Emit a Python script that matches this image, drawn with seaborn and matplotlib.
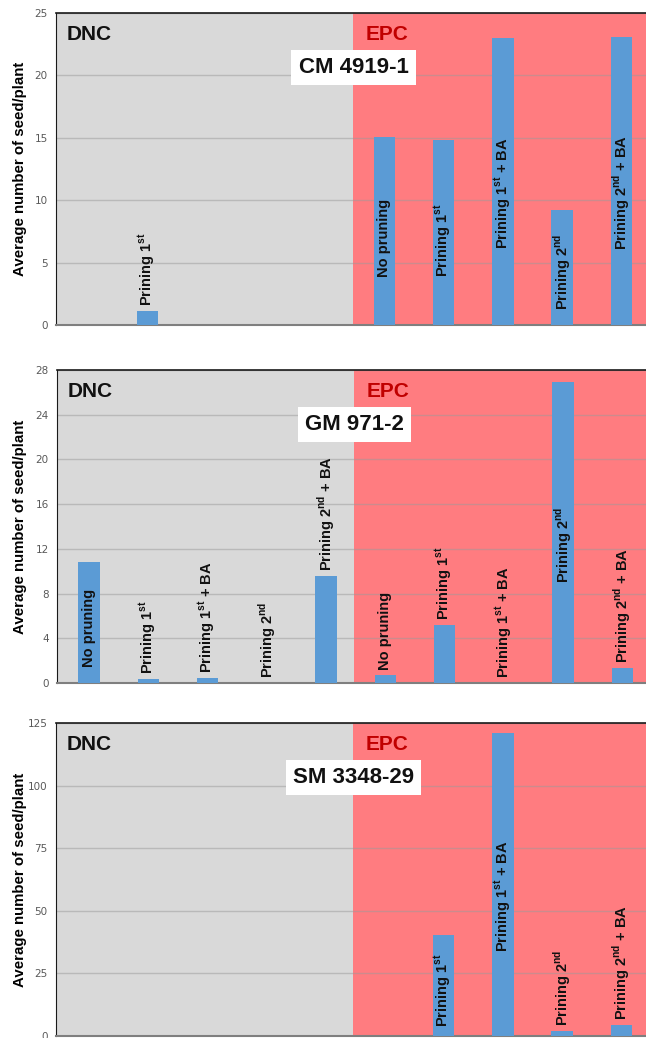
import numpy as np
import pandas as pd
import matplotlib
matplotlib.use("Agg")
import matplotlib.pyplot as plt
import seaborn as sns

nan = np.nan

# treatments, same order in both zones
treatments = [
    r"No pruning",
    r"Prining 1$^{\mathbf{st}}$",
    r"Prining 1$^{\mathbf{st}}$ + BA",
    r"Prining 2$^{\mathbf{nd}}$",
    r"Prining 2$^{\mathbf{nd}}$ + BA",
]
zones = ["DNC", "EPC"]

# average number of seed/plant (nan = no bar / no label)
cm_dnc = [nan, 1.1, nan, nan, nan]
cm_epc = [15.1, 14.8, 23.0, 9.2, 23.1]
gm_dnc = [10.8, 0.4, 0.45, 0.0, 9.6]
gm_epc = [0.7, 5.2, 0.0, 26.9, 1.35]
sm_dnc = [nan, nan, nan, nan, nan]
sm_epc = [nan, 40.2, 121.0, 2.0, 4.5]

clones = ["CM 4919-1", "GM 971-2", "SM 3348-29"]
y_max = [25, 28, 125]
y_step = [5, 4, 25]

plt.rcParams["font.family"] = ["Liberation Sans", "DejaVu Sans"]
plt.rcParams["mathtext.fontset"] = "custom"
plt.rcParams["mathtext.rm"] = "Liberation Sans"
plt.rcParams["mathtext.bf"] = "Liberation Sans:bold"

GRAY = "#d9d9d9"
RED = "#ff7c80"
BLUE = "#5b9bd5"

W, H = 646, 1038
fig = plt.figure(figsize=(W / 100, H / 100), dpi=100)

# pixel boxes of the three panels: left, top, bottom (axes runs past the right edge)
panels = [(56, 13, 325), (57, 370, 683), (56, 723, 1036)]
ax_w = 601

data = [(cm_dnc, cm_epc), (gm_dnc, gm_epc), (sm_dnc, sm_epc)]

axes = []
for k, ((dnc, epc), (left, top, bot)) in enumerate(zip(data, panels)):
    ax = fig.add_axes([left / W, 1 - bot / H, ax_w / W, (bot - top) / H])
    axes.append(ax)
    df = pd.DataFrame({
        "key": [f"{z}|{i}" for z in zones for i in range(len(treatments))],
        "label": treatments * 2,
        "value": list(dnc) + list(epc),
    })
    order = list(df["key"])
    sns.barplot(data=df.dropna(), x="key", y="value", order=order, color=BLUE,
                width=0.36, errorbar=None, saturation=1, zorder=3, ax=ax)

    ax.axvspan(-0.6, 4.47, color=GRAY, zorder=0.2, lw=0)
    ax.axvspan(4.47, 10, color=RED, zorder=0.2, lw=0)
    ax.set_xlim(-0.54, 9.6)
    ax.set_ylim(0, y_max[k])
    ax.set_yticks(np.arange(0, y_max[k] + 1, y_step[k]))
    ax.set_xticks([])
    ax.set_xlabel("")
    ax.yaxis.grid(True, color="#9a9a9a", alpha=0.5, lw=1)
    ax.set_axisbelow(True)
    ax.tick_params(axis="y", length=0, pad=6, labelsize=7.5, labelcolor="#595959")
    for t in ax.get_yticklabels():
        t.set_fontfamily("DejaVu Sans")
    ax.spines["right"].set_visible(False)
    ax.spines["top"].set_color("#1a1a1a")
    ax.spines["top"].set_linewidth(1.2)
    ax.spines["left"].set_color("#1a1a1a")
    ax.spines["bottom"].set_color("#7f7f7f")
    ax.spines["bottom"].set_linewidth(1.5)

    ax.set_ylabel("Average number of seed/plant", fontsize=10.8, fontweight="bold")
    ax.yaxis.set_label_coords(-(left - 27) / ax_w, 0.5)

    ax.text(0.018, 0.962, "DNC", transform=ax.transAxes, fontsize=15,
            fontweight="bold", color="#111111", va="top", ha="left")
    ax.text(0.515, 0.962, "EPC", transform=ax.transAxes, fontsize=15,
            fontweight="bold", color="#c00000", va="top", ha="left")
    ax.text(0.495, 0.825, clones[k], transform=ax.transAxes, fontsize=16,
            fontweight="bold", color="#111111", va="center", ha="center",
            bbox=dict(boxstyle="square,pad=0.32", fc="white", ec="none"), zorder=5)

fig.canvas.draw()
r = fig.canvas.get_renderer()
for k, ((dnc, epc), ax) in enumerate(zip(data, axes)):
    px_per_unit = ax.bbox.height / y_max[k]
    vals = list(dnc) + list(epc)
    labs = treatments * 2
    for i, (v, lab) in enumerate(zip(vals, labs)):
        if np.isnan(v):
            continue
        t = ax.text(i, v, lab, rotation=90, ha="center", va="bottom",
                    fontsize=10.5, fontweight="bold", color="#111111", zorder=4)
        h = t.get_window_extent(r).height
        if v * px_per_unit > h + 12:
            t.set_y(0.46 * v)
            t.set_va("center")
        else:
            t.set_y(v + 5 / px_per_unit)

fig.savefig("out.png", dpi=100)
